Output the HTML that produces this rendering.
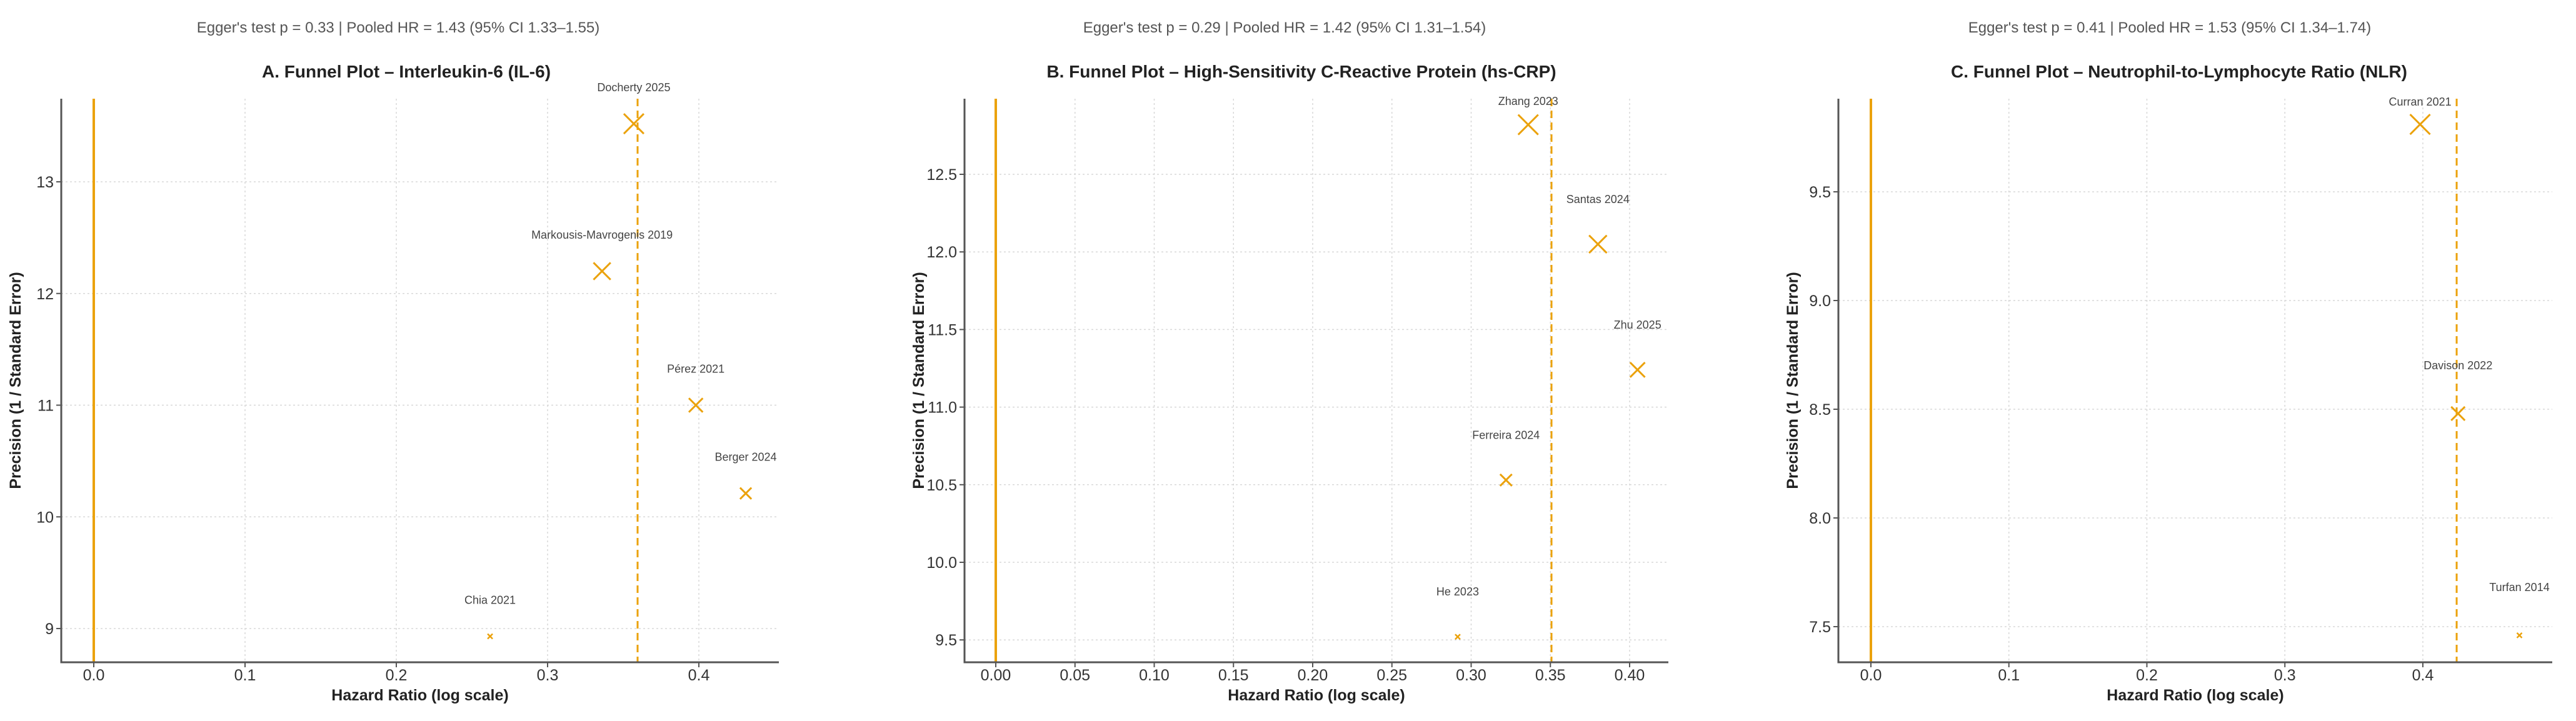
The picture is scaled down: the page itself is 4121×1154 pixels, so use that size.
<!DOCTYPE html>
<html><head><meta charset="utf-8"><style>
html,body{margin:0;padding:0;background:#fff;}
svg{display:block;font-family:"Liberation Sans","DejaVu Sans",sans-serif;}
</style></head><body>
<svg id="fig" width="4121" height="1154" viewBox="0 0 4121 1154" xmlns="http://www.w3.org/2000/svg"></svg>
<script>
// Panel A – IL-6
const aStudies = ["Docherty 2025","Markousis-Mavrogenis 2019","Pérez 2021","Berger 2024","Chia 2021"];
const aLogHR = [0.357,0.336,0.398,0.431,0.262];
const aPrecision = [13.52,12.2,11.0,10.21,8.93];
const aXTicks = [0,0.1,0.2,0.3,0.4];
const aXTickLabels = ["0.0","0.1","0.2","0.3","0.4"];
const aYTicks = [9,10,11,12,13];
const aYTickLabels = ["9","10","11","12","13"];
const aPooled = 0.3595;
// Panel B – hs-CRP
const bStudies = ["Zhang 2023","Santas 2024","Zhu 2025","Ferreira 2024","He 2023"];
const bLogHR = [0.336,0.380,0.405,0.322,0.2915];
const bPrecision = [12.82,12.05,11.24,10.53,9.52];
const bXTicks = [0,0.05,0.1,0.15,0.2,0.25,0.3,0.35,0.4];
const bXTickLabels = ["0.00","0.05","0.10","0.15","0.20","0.25","0.30","0.35","0.40"];
const bYTicks = [9.5,10,10.5,11,11.5,12,12.5];
const bYTickLabels = ["9.5","10.0","10.5","11.0","11.5","12.0","12.5"];
const bPooled = 0.3507;
// Panel C – NLR
const cStudies = ["Curran 2021","Davison 2022","Turfan 2014"];
const cLogHR = [0.398,0.4255,0.470];
const cPrecision = [9.81,8.48,7.46];
const cXTicks = [0,0.1,0.2,0.3,0.4];
const cXTickLabels = ["0.0","0.1","0.2","0.3","0.4"];
const cYTicks = [7.5,8,8.5,9,9.5];
const cYTickLabels = ["7.5","8.0","8.5","9.0","9.5"];
const cPooled = 0.4245;

const NS="http://www.w3.org/2000/svg";
const svg=document.getElementById('fig');
function mk(tag,attrs,parent,text){const e=document.createElementNS(NS,tag);for(const k in attrs)e.setAttribute(k,attrs[k]);if(text!==undefined)e.textContent=text;(parent||svg).appendChild(e);return e;}
const ORANGE="#eba20c";

function panel(cfg){
  const g=mk('g',{});
  
  
  const X=v=>cfg.x0px+(v-cfg.xv0)*cfg.xScale;
  const Y=v=>cfg.y0px-(v-cfg.yv0)*cfg.yScale;
  // grid
  cfg.xTicks.forEach((t,i)=>{
    const gl=mk('line',{x1:X(t),x2:X(t),y1:cfg.top,y2:cfg.bottom,stroke:"#d8d8d8","stroke-width":1.5,"stroke-dasharray":"3 4"},g);
    
    
    const tk=mk('line',{x1:X(t),x2:X(t),y1:cfg.bottom,y2:cfg.bottom+8,stroke:"#555","stroke-width":2},g);
    
    
    const tl=mk('text',{x:X(t),y:cfg.bottom+29,"text-anchor":"middle","font-size":25,fill:"#333"},g,cfg.xTickLabels[i]);
    
    
  });
  cfg.yTicks.forEach((t,i)=>{
    const gl=mk('line',{x1:cfg.left,x2:cfg.right,y1:Y(t),y2:Y(t),stroke:"#d8d8d8","stroke-width":1.5,"stroke-dasharray":"3 4"},g);
    
    
    const tk=mk('line',{x1:cfg.left-8,x2:cfg.left,y1:Y(t),y2:Y(t),stroke:"#555","stroke-width":2},g);
    
    
    const tl=mk('text',{x:cfg.left-12,y:Y(t)+9,"text-anchor":"end","font-size":25,fill:"#333"},g,cfg.yTickLabels[i]);
    
    
  });
  // null line
  const nl=mk('line',{x1:X(0),x2:X(0),y1:cfg.top,y2:cfg.bottom,stroke:ORANGE,"stroke-width":4},g);
  
  
  // pooled dashed
  const pl=mk('line',{x1:X(cfg.pooled),x2:X(cfg.pooled),y1:cfg.top,y2:cfg.bottom,stroke:ORANGE,"stroke-width":3,"stroke-dasharray":"12 7"},g);
  
  
  // spines
  const sp=mk('path',{d:`M${cfg.left} ${cfg.top} V${cfg.bottom} H${cfg.right}`,fill:"none",stroke:"#555","stroke-width":3},g);
  
  
  // points
  const pmin=Math.min(...cfg.prec),pmax=Math.max(...cfg.prec);
  cfg.studies.forEach((s,i)=>{
    const cx=X(cfg.hr[i]),cy=Y(cfg.prec[i]);
    const t=(cfg.prec[i]-pmin)/(pmax-pmin||1);
    const h=Math.sqrt(16+240*t);
    const m=mk('path',{d:`M${cx-h} ${cy-h} L${cx+h} ${cy+h} M${cx-h} ${cy+h} L${cx+h} ${cy-h}`,stroke:ORANGE,"stroke-width":h>6?3:2.5,fill:"none"},g);
    
    
    const ly=Math.max(cy-cfg.labOff,cfg.labMin);
    const l=mk('text',{x:cx,y:ly+6,"text-anchor":"middle","font-size":18,fill:"#444"},g,s);
    
    
  });
  // texts
  const eg=mk('text',{x:cfg.eggerX,y:52,"text-anchor":"middle","font-size":24,fill:"#555"},g,cfg.egger);
  
  
  const ti=mk('text',{x:cfg.titleX,y:124,"text-anchor":"middle","font-size":28,"font-weight":"bold",fill:"#222"},g,cfg.title);
  
  
  const xl=mk('text',{x:(cfg.left+cfg.right)/2,y:1121,"text-anchor":"middle","font-size":25,"font-weight":"bold",fill:"#222"},g,"Hazard Ratio (log scale)");
  
  
  const yx=cfg.left-65, yy=(cfg.top+cfg.bottom)/2;
  const yl=mk('text',{x:yx,y:yy,"text-anchor":"middle","font-size":25,"font-weight":"bold",fill:"#222",transform:`rotate(-90 ${yx} ${yy})`},g,"Precision (1 / Standard Error)");
  
  
}

panel({id:'il6',studies:aStudies,hr:aLogHR,prec:aPrecision,xTicks:aXTicks,xTickLabels:aXTickLabels,yTicks:aYTicks,yTickLabels:aYTickLabels,pooled:aPooled,
  left:98,right:1246,top:158,bottom:1060,x0px:150,xv0:0,xScale:2420,y0px:291,yv0:13,yScale:178.75,labOff:58,labMin:140,
  eggerX:637,titleX:650,egger:"Egger's test p = 0.33 | Pooled HR = 1.43 (95% CI 1.33–1.55)",title:"A. Funnel Plot – Interleukin-6 (IL-6)"});
panel({id:'hscrp',studies:bStudies,hr:bLogHR,prec:bPrecision,xTicks:bXTicks,xTickLabels:bXTickLabels,yTicks:bYTicks,yTickLabels:bYTickLabels,pooled:bPooled,
  left:1543,right:2669,top:158,bottom:1060,x0px:1593,xv0:0,xScale:2535,y0px:279,yv0:12.5,yScale:248.4,labOff:72,labMin:162,
  eggerX:2055,titleX:2082,egger:"Egger's test p = 0.29 | Pooled HR = 1.42 (95% CI 1.31–1.54)",title:"B.  Funnel Plot – High-Sensitivity C-Reactive Protein (hs-CRP)"});
panel({id:'nlr',studies:cStudies,hr:cLogHR,prec:cPrecision,xTicks:cXTicks,xTickLabels:cXTickLabels,yTicks:cYTicks,yTickLabels:cYTickLabels,pooled:cPooled,
  left:2941,right:4083,top:158,bottom:1060,x0px:2993,xv0:0,xScale:2207.5,y0px:307,yv0:9.5,yScale:348,labOff:77,labMin:163,
  eggerX:3471,titleX:3486,egger:"Egger's test p = 0.41 | Pooled HR = 1.53 (95% CI 1.34–1.74)",title:"C.  Funnel Plot – Neutrophil-to-Lymphocyte Ratio (NLR)"});
</script>
</body></html>
